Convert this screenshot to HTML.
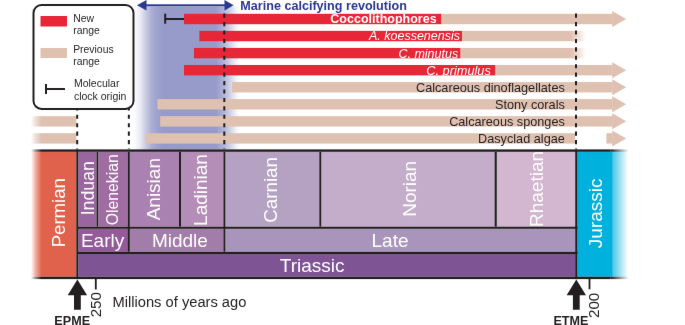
<!DOCTYPE html>
<html><head><meta charset="utf-8"><style>
html,body{margin:0;padding:0;background:#fff;}
body{width:685px;height:325px;overflow:hidden;}
svg{display:block;font-family:"Liberation Sans", sans-serif;will-change:transform;}
</style></head><body>
<svg width="685" height="325" viewBox="0 0 685 325">
<defs>
<linearGradient id="gBlue" x1="0" x2="1" y1="0" y2="0">
 <stop offset="0.0000" stop-color="#979bc9" stop-opacity="0"/>
 <stop offset="0.0521" stop-color="#979bc9" stop-opacity="0.2"/>
 <stop offset="0.1033" stop-color="#979bc9" stop-opacity="0.5"/>
 <stop offset="0.1611" stop-color="#979bc9" stop-opacity="0.8"/>
 <stop offset="0.2227" stop-color="#979bc9" stop-opacity="0.95"/>
 <stop offset="0.2796" stop-color="#979bc9" stop-opacity="1"/>
 <stop offset="0.7725" stop-color="#979bc9" stop-opacity="1"/>
 <stop offset="0.8483" stop-color="#979bc9" stop-opacity="0.75"/>
 <stop offset="0.9052" stop-color="#979bc9" stop-opacity="0.45"/>
 <stop offset="0.9621" stop-color="#979bc9" stop-opacity="0.12"/>
 <stop offset="1.0000" stop-color="#979bc9" stop-opacity="0"/>
</linearGradient>
<linearGradient id="gTanR" x1="0" x2="1" y1="0" y2="0">
 <stop offset="0" stop-color="#dfc1b1" stop-opacity="1"/>
 <stop offset="1" stop-color="#dfc1b1" stop-opacity="0"/>
</linearGradient>
<linearGradient id="gTanL" x1="0" x2="1" y1="0" y2="0">
 <stop offset="0" stop-color="#dfc1b1" stop-opacity="0"/>
 <stop offset="1" stop-color="#dfc1b1" stop-opacity="1"/>
</linearGradient>
<linearGradient id="gPerm" x1="0" x2="1" y1="0" y2="0">
 <stop offset="0" stop-color="#e1624c" stop-opacity="0"/>
 <stop offset="1" stop-color="#e1624c" stop-opacity="1"/>
</linearGradient>
<linearGradient id="gJur" x1="0" x2="1" y1="0" y2="0">
 <stop offset="0" stop-color="#00b1dd" stop-opacity="0.72"/>
 <stop offset="1" stop-color="#00b1dd" stop-opacity="0"/>
</linearGradient>
<linearGradient id="gDarkR" x1="0" x2="1" y1="0" y2="0">
 <stop offset="0" stop-color="#231f20" stop-opacity="1"/>
 <stop offset="1" stop-color="#231f20" stop-opacity="0"/>
</linearGradient>
<linearGradient id="gDarkL" x1="0" x2="1" y1="0" y2="0">
 <stop offset="0" stop-color="#231f20" stop-opacity="0"/>
 <stop offset="1" stop-color="#231f20" stop-opacity="1"/>
</linearGradient>
<linearGradient id="gWhiteL" x1="0" x2="1" y1="0" y2="0">
 <stop offset="0" stop-color="#fff" stop-opacity="1"/>
 <stop offset="0.22" stop-color="#fff" stop-opacity="1"/>
 <stop offset="0.55" stop-color="#fff" stop-opacity="0.5"/>
 <stop offset="1" stop-color="#fff" stop-opacity="0"/>
</linearGradient>
</defs>
<filter id="soft" x="0" y="0" width="685" height="325" filterUnits="userSpaceOnUse" color-interpolation-filters="sRGB"><feConvolveMatrix order="3" kernelMatrix="0.00163 0.03713 0.00163 0.03713 0.84497 0.03713 0.00163 0.03713 0.00163" divisor="1" edgeMode="duplicate"/></filter>
<g filter="url(#soft)">
<rect x="134.5" y="6.5" width="105.5" height="143" fill="url(#gBlue)"/>
<polygon points="137,5.3 146.5,0 146.5,10.6" fill="#2b3990"/>
<rect x="146" y="4.3" width="79" height="2" fill="#2b3990"/>
<polygon points="233.6,5.3 224.5,0 224.5,10.6" fill="#2b3990"/>
<text x="240.3" y="9.8" font-size="12.6" fill="#2b3990" font-weight="bold" font-style="normal" text-anchor="start" >Marine calcifying revolution</text>
<rect x="184" y="13.80" width="257.50" height="10.4" fill="#e72637"/>
<rect x="441.5" y="13.80" width="171.00" height="10.4" fill="#dfc1b1"/>
<polygon points="612.2,11.00 626.2,19.00 612.2,27.00" fill="#dfc1b1"/>
<rect x="199.4" y="30.86" width="262.60" height="10.4" fill="#e72637"/>
<rect x="462" y="30.86" width="109.00" height="10.4" fill="#dfc1b1"/>
<rect x="571" y="30.86" width="15.00" height="10.4" fill="url(#gTanR)"/>
<rect x="194" y="47.92" width="266.60" height="10.4" fill="#e72637"/>
<rect x="460.6" y="47.92" width="110.40" height="10.4" fill="#dfc1b1"/>
<rect x="571" y="47.92" width="15.00" height="10.4" fill="url(#gTanR)"/>
<rect x="184" y="64.98" width="311.50" height="10.4" fill="#e72637"/>
<rect x="495.5" y="64.98" width="117.00" height="10.4" fill="#dfc1b1"/>
<polygon points="612.2,62.18 626.2,70.18 612.2,78.18" fill="#dfc1b1"/>
<rect x="232" y="82.04" width="380.50" height="10.4" fill="#dfc1b1"/>
<polygon points="612.2,79.24 626.2,87.24 612.2,95.24" fill="#dfc1b1"/>
<rect x="157.5" y="99.10" width="455.00" height="10.4" fill="#dfc1b1"/>
<polygon points="612.2,96.30 626.2,104.30 612.2,112.30" fill="#dfc1b1"/>
<rect x="31" y="116.16" width="45.30" height="10.4" fill="#dfc1b1"/>
<rect x="160.2" y="116.16" width="452.30" height="10.4" fill="#dfc1b1"/>
<polygon points="612.2,113.36 626.2,121.36 612.2,129.36" fill="#dfc1b1"/>
<rect x="31" y="133.22" width="45.30" height="10.4" fill="#dfc1b1"/>
<rect x="145.5" y="133.22" width="429.50" height="10.4" fill="#dfc1b1"/>
<rect x="606.4" y="133.22" width="6.10" height="10.4" fill="#dfc1b1"/>
<polygon points="612.2,130.42 626.2,138.42 612.2,146.42" fill="#dfc1b1"/>
<rect x="164.2" y="13.70" width="2" height="10" fill="#231f20"/>
<rect x="165" y="18.00" width="19" height="2" fill="#231f20"/>
<text x="436.6" y="23.40" font-size="12.5" fill="#fff" font-weight="bold" font-style="normal" text-anchor="end" >Coccolithophores</text>
<text x="460.0" y="40.46" font-size="12.5" fill="#fff" font-weight="normal" font-style="italic" text-anchor="end" >A. koessenensis</text>
<text x="458.2" y="57.52" font-size="12.5" fill="#fff" font-weight="normal" font-style="italic" text-anchor="end" >C. minutus</text>
<text x="490.9" y="74.58" font-size="12.8" fill="#fff" font-weight="normal" font-style="italic" text-anchor="end" >C. primulus</text>
<text x="564.8" y="91.64" font-size="12.7" fill="#231f20" font-weight="normal" font-style="normal" text-anchor="end" >Calcareous dinoflagellates</text>
<text x="564.8" y="108.70" font-size="12.7" fill="#231f20" font-weight="normal" font-style="normal" text-anchor="end" >Stony corals</text>
<text x="564.8" y="125.76" font-size="12.7" fill="#231f20" font-weight="normal" font-style="normal" text-anchor="end" >Calcareous sponges</text>
<text x="564.8" y="142.82" font-size="12.7" fill="#231f20" font-weight="normal" font-style="normal" text-anchor="end" >Dasyclad algae</text>
<line x1="77.2" y1="13.6" x2="77.2" y2="149" stroke="#231f20" stroke-width="2" stroke-dasharray="4.1 4.33"/>
<line x1="128.85" y1="13.6" x2="128.85" y2="149" stroke="#231f20" stroke-width="2" stroke-dasharray="4.1 4.33"/>
<line x1="224.3" y1="13.6" x2="224.3" y2="149" stroke="#231f20" stroke-width="2" stroke-dasharray="4.1 4.33"/>
<line x1="576.0" y1="13.6" x2="576.0" y2="149" stroke="#231f20" stroke-width="2" stroke-dasharray="4.1 4.33"/>
<rect x="33.5" y="5" width="100" height="103.9" rx="8" ry="8" fill="#fff" stroke="#231f20" stroke-width="2"/>
<rect x="40.5" y="16" width="26.5" height="10.5" fill="#e72637"/>
<rect x="40.5" y="48" width="26.5" height="10" fill="#dfc1b1"/>
<rect x="45" y="84" width="2" height="10" fill="#231f20"/>
<rect x="45" y="88" width="20" height="2" fill="#231f20"/>
<text x="73.2" y="21.5" font-size="10.4" fill="#231f20" font-weight="normal" font-style="normal" text-anchor="start" >New</text>
<text x="73.2" y="33.6" font-size="10.4" fill="#231f20" font-weight="normal" font-style="normal" text-anchor="start" >range</text>
<text x="73.2" y="52.9" font-size="10.4" fill="#231f20" font-weight="normal" font-style="normal" text-anchor="start" >Previous</text>
<text x="73.2" y="65.1" font-size="10.4" fill="#231f20" font-weight="normal" font-style="normal" text-anchor="start" >range</text>
<text x="73.9" y="87.3" font-size="10.5" fill="#231f20" font-weight="normal" font-style="normal" text-anchor="start" >Molecular</text>
<text x="73.9" y="99.6" font-size="10.5" fill="#231f20" font-weight="normal" font-style="normal" text-anchor="start" >clock origin</text>
<rect x="31" y="151.8" width="45.3" height="124.89999999999998" fill="#e1624c"/>
<rect x="78.3" y="151.8" width="18.20" height="74.90" fill="#9a669f"/>
<rect x="98.2" y="151.8" width="29.50" height="74.90" fill="#a06da2"/>
<rect x="129.7" y="151.8" width="49.30" height="74.90" fill="#aa82b1"/>
<rect x="181.0" y="151.8" width="42.40" height="74.90" fill="#b48eb6"/>
<rect x="225.4" y="151.8" width="93.90" height="74.90" fill="#b5a1c2"/>
<rect x="321.3" y="151.8" width="173.30" height="74.90" fill="#c4adca"/>
<rect x="496.8" y="151.8" width="78.40" height="74.90" fill="#d3b6cf"/>
<rect x="78.3" y="228.8" width="49.50" height="23.00" fill="#935b98"/>
<rect x="129.8" y="228.8" width="93.60" height="23.00" fill="#a27da9"/>
<rect x="225.4" y="228.8" width="349.80" height="23.00" fill="#a995bb"/>
<rect x="78.3" y="254.0" width="496.90" height="22.70" fill="#7e5495"/>
<rect x="577.4" y="151.8" width="35.30" height="124.90" fill="#00b1dd"/>
<rect x="612.6" y="151.8" width="15.5" height="124.90" fill="url(#gJur)"/>
<rect x="78" y="226.7" width="499.50" height="2.10" fill="#231f20"/>
<rect x="78" y="251.8" width="499.50" height="2.20" fill="#231f20"/>
<rect x="31" y="149.4" width="579.50" height="2.4" fill="#231f20"/>
<rect x="610.4" y="149.4" width="18.5" height="2.4" fill="url(#gDarkR)"/>
<rect x="31" y="276.7" width="579.50" height="2.4" fill="#231f20"/>
<rect x="610.4" y="276.7" width="18.5" height="2.4" fill="url(#gDarkR)"/>
<rect x="76.3" y="149.4" width="2.00" height="129.70" fill="#231f20"/>
<rect x="96.5" y="151.8" width="1.70" height="74.90" fill="#231f20"/>
<rect x="127.7" y="151.8" width="2.10" height="100.00" fill="#231f20"/>
<rect x="179.0" y="151.8" width="2.00" height="74.90" fill="#231f20"/>
<rect x="223.4" y="151.8" width="2.00" height="100.00" fill="#231f20"/>
<rect x="319.3" y="151.8" width="2.00" height="74.90" fill="#231f20"/>
<rect x="494.6" y="151.8" width="2.20" height="74.90" fill="#231f20"/>
<rect x="575.2" y="149.4" width="2.20" height="129.70" fill="#231f20"/>
<rect x="28" y="112" width="13.6" height="170" fill="url(#gWhiteL)"/>
<text transform="translate(64.5,212.7) rotate(-90)" font-size="18.6" fill="#fff" text-anchor="middle" >Permian</text>
<text transform="translate(94.0,188.3) rotate(-90)" font-size="17.7" fill="#fff" text-anchor="middle" >Induan</text>
<text transform="translate(117.8,189.8) rotate(-90)" font-size="15.8" fill="#fff" text-anchor="middle" >Olenekian</text>
<text transform="translate(159.6,189.2) rotate(-90)" font-size="19" fill="#fff" text-anchor="middle" >Anisian</text>
<text transform="translate(207.0,190.0) rotate(-90)" font-size="19" fill="#fff" text-anchor="middle" >Ladinian</text>
<text transform="translate(277.1,189.9) rotate(-90)" font-size="18.8" fill="#fff" text-anchor="middle" >Carnian</text>
<text transform="translate(415.5,188.8) rotate(-90)" font-size="19" fill="#fff" text-anchor="middle" >Norian</text>
<text transform="translate(542.9,189.0) rotate(-90)" font-size="19" fill="#fff" text-anchor="middle" >Rhaetian</text>
<text transform="translate(601.9,213.3) rotate(-90)" font-size="19" fill="#fff" text-anchor="middle" >Jurassic</text>
<text x="80.9" y="247.4" font-size="19" fill="#fff" font-weight="normal" font-style="normal" text-anchor="start" >Early</text>
<text x="151.9" y="247.2" font-size="19" fill="#fff" font-weight="normal" font-style="normal" text-anchor="start" >Middle</text>
<text x="371.5" y="247.1" font-size="19" fill="#fff" font-weight="normal" font-style="normal" text-anchor="start" >Late</text>
<text x="279.8" y="272.2" font-size="19" fill="#fff" font-weight="normal" font-style="normal" text-anchor="start" >Triassic</text>
<polygon points="77.4,279.4 87.10000000000001,295.3 80.80000000000001,295.3 80.80000000000001,309.7 74.0,309.7 74.0,295.3 67.7,295.3" fill="#231f20"/>
<polygon points="576.3,279.4 586.0,295.3 579.6999999999999,295.3 579.6999999999999,309.7 572.9,309.7 572.9,295.3 566.5999999999999,295.3" fill="#231f20"/>
<rect x="94.9" y="279" width="1.80" height="10.50" fill="#231f20"/>
<rect x="588.6" y="279" width="1.80" height="10.30" fill="#231f20"/>
<text transform="translate(101.2,304.65) rotate(-90)" font-size="15.2" fill="#231f20" text-anchor="middle" >250</text>
<text transform="translate(598.6,305.35) rotate(-90)" font-size="15.2" fill="#231f20" text-anchor="middle" >200</text>
<text x="112.5" y="306.7" font-size="14.7" fill="#231f20" font-weight="normal" font-style="normal" text-anchor="start" >Millions of years ago</text>
<text x="72.2" y="325.4" font-size="12.6" fill="#231f20" font-weight="bold" font-style="normal" text-anchor="middle" >EPME</text>
<text x="570.9" y="325.4" font-size="12.6" fill="#231f20" font-weight="bold" font-style="normal" text-anchor="middle" >ETME</text>
</g>
</svg>
</body></html>
